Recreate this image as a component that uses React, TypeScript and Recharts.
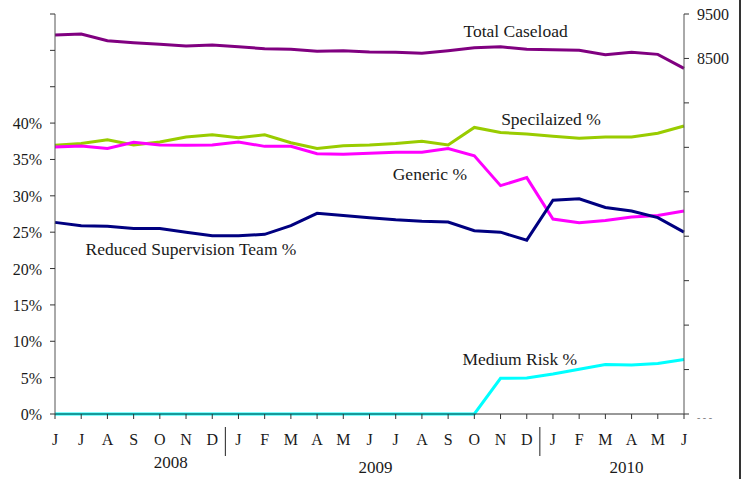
import React from 'react';
import { LineChart, Line, XAxis, YAxis, ReferenceDot } from 'recharts';

const periods = [
  '2008-06', '2008-07', '2008-08', '2008-09', '2008-10', '2008-11', '2008-12',
  '2009-01', '2009-02', '2009-03', '2009-04', '2009-05', '2009-06', '2009-07', '2009-08', '2009-09', '2009-10', '2009-11', '2009-12',
  '2010-01', '2010-02', '2010-03', '2010-04', '2010-05', '2010-06',
];
const monthLetters = ['J', 'J', 'A', 'S', 'O', 'N', 'D', 'J', 'F', 'M', 'A', 'M', 'J', 'J', 'A', 'S', 'O', 'N', 'D', 'J', 'F', 'M', 'A', 'M', 'J'];

const totalCaseload = [9027, 9050, 8899, 8854, 8818, 8779, 8802, 8764, 8719, 8705, 8660, 8673, 8644, 8637, 8615, 8673, 8741, 8764, 8705, 8696, 8682, 8583, 8637, 8592, 8277];
const specializedPct = [36.95, 37.2, 37.7, 37.0, 37.4, 38.1, 38.4, 38.0, 38.4, 37.3, 36.5, 36.9, 37.0, 37.2, 37.5, 37.0, 39.4, 38.7, 38.5, 38.2, 37.9, 38.1, 38.1, 38.6, 39.6];
const genericPct = [36.7, 36.85, 36.5, 37.35, 37.0, 36.95, 37.0, 37.4, 36.8, 36.8, 35.8, 35.7, 35.85, 36.0, 36.0, 36.5, 35.5, 31.4, 32.5, 26.8, 26.3, 26.6, 27.1, 27.3, 27.9];
const reducedPct = [26.35, 25.9, 25.8, 25.5, 25.5, 25.0, 24.5, 24.5, 24.7, 25.9, 27.6, 27.3, 27.0, 26.7, 26.5, 26.4, 25.2, 25.0, 23.9, 29.4, 29.6, 28.4, 27.9, 27.0, 25.0];
const mediumRiskPct = [0, 0, 0, 0, 0, 0, 0, 0, 0, 0, 0, 0, 0, 0, 0, 0, 0, 4.9, 4.95, 5.5, 6.15, 6.8, 6.75, 6.95, 7.5];

const leftTicks = [0, 5, 10, 15, 20, 25, 30, 35, 40, 45, 50, 55];
const leftLabelMax = 40;
const rightTicks = [500, 1500, 2500, 3500, 4500, 5500, 6500, 7500, 8500, 9500];
const rightLabels = [8500, 9500];

const yearLabels = [
  { label: '2008', at: '2008-10', dx: 11, dy: 49 },
  { label: '2009', at: '2009-06', dx: 6, dy: 54 },
  { label: '2010', at: '2010-03', dx: 21, dy: 54 },
];
const yearStarts = ['2009-01', '2010-01'];

const annotations = [
  { text: 'Total Caseload', at: '2009-11', value: 52.6, dx: 15 },
  { text: 'Specilaized %', at: '2010-01', value: 40.56, dx: -2 },
  { text: 'Generic %', at: '2009-08', value: 33.0, dx: 8 },
  { text: 'Reduced Supervision Team %', at: '2008-11', value: 22.73, dx: 5 },
  { text: 'Medium Risk %', at: '2009-12', value: 7.56, dx: -7 },
];

const data = periods.map((p, i) => ({
  period: p,
  month: monthLetters[i],
  total: totalCaseload[i],
  specialized: specializedPct[i],
  generic: genericPct[i],
  reduced: reducedPct[i],
  medium: mediumRiskPct[i],
}));

const FONT = '"Liberation Serif", "Times New Roman", serif';
const TEXT = '#1a1a1a';
const AXIS = '#555';

const XTick = (props: any) => {
  const { x, y, payload } = props;
  const idx = periods.indexOf(payload.value);
  const step = 26.2;
  const yl = yearLabels.find((d) => d.at === payload.value);
  const isStart = yearStarts.includes(payload.value);
  return (
    <g>
      <text x={x} y={y + 26} textAnchor="middle" fontFamily={FONT} fontSize={16} fill={TEXT}>
        {monthLetters[idx]}
      </text>
      {yl && (
        <text x={x + yl.dx} y={y + yl.dy} textAnchor="middle" fontFamily={FONT} fontSize={17} fill={TEXT}>
          {yl.label}
        </text>
      )}
      {isStart && <line x1={x - step / 2} x2={x - step / 2} y1={y + 8} y2={y + 37} stroke="#222" strokeWidth={1} />}
    </g>
  );
};

const LeftTick = (props: any) => {
  const { x, y, payload } = props;
  if (payload.value > leftLabelMax) return <g />;
  return (
    <text x={x} y={y + 6} textAnchor="end" fontFamily={FONT} fontSize={16} fill={TEXT}>
      {payload.value + '%'}
    </text>
  );
};

const RightTick = (props: any) => {
  const { x, y, payload } = props;
  if (rightLabels.includes(payload.value)) {
    return (
      <text x={x} y={y + 6} textAnchor="start" fontFamily={FONT} fontSize={16} fill={TEXT}>
        {payload.value}
      </text>
    );
  }
  if (payload.value === rightTicks[0]) {
    return (
      <text x={x} y={y + 7} textAnchor="start" fontFamily={FONT} fontSize={10} fill="#777">
        - - -
      </text>
    );
  }
  return <g />;
};

export default function App() {
  return (
    <div style={{ position: 'absolute', left: 0, top: 0, width: 743, height: 479, background: '#fff' }}>
      <LineChart width={743} height={479} data={data} margin={{ top: 14, right: 9, left: 10, bottom: 35 }}>
        <XAxis
          dataKey="period"
          height={30}
          padding={{ left: 0, right: 0 }}
          interval={0}
          tickSize={5}
          tickMargin={0}
          axisLine={{ stroke: '#333' }}
          tickLine={{ stroke: '#333' }}
          tick={<XTick />}
        />
        <YAxis
          yAxisId="left"
          orientation="left"
          width={45}
          domain={[0, 55]}
          ticks={leftTicks}
          interval={0}
          tickSize={5}
          tickMargin={8}
          axisLine={{ stroke: AXIS }}
          tickLine={{ stroke: '#333' }}
          tick={<LeftTick />}
        />
        <YAxis
          yAxisId="right"
          orientation="right"
          width={50}
          domain={[500, 9500]}
          ticks={rightTicks}
          interval={0}
          tickSize={5}
          tickMargin={8}
          axisLine={{ stroke: AXIS }}
          tickLine={{ stroke: '#333' }}
          tick={<RightTick />}
        />
        <Line yAxisId="right" dataKey="total" stroke="#800080" strokeWidth={3} dot={false} isAnimationActive={false} />
        <Line yAxisId="left" dataKey="specialized" stroke="#99CC00" strokeWidth={3} dot={false} isAnimationActive={false} />
        <Line yAxisId="left" dataKey="generic" stroke="#FF00FF" strokeWidth={3} dot={false} isAnimationActive={false} />
        <Line yAxisId="left" dataKey="reduced" stroke="#000080" strokeWidth={3} dot={false} isAnimationActive={false} />
        <Line yAxisId="left" dataKey="medium" stroke="#00FFFF" strokeWidth={3} dot={false} isAnimationActive={false} />
        {annotations.map((a) => (
          <ReferenceDot
            key={a.text}
            yAxisId="left"
            x={a.at}
            y={a.value}
            r={0}
            ifOverflow="visible"
            shape={(p: any) => (
              <text
                x={p.cx + a.dx}
                y={p.cy + 6}
                textAnchor="middle"
                fontFamily={FONT}
                fontSize={17.5}
                fill={TEXT}
              >
                {a.text}
              </text>
            )}
          />
        ))}
      </LineChart>
      <div style={{ position: 'absolute', left: 739, top: 0, width: 2, height: 479, background: '#333' }} />
    </div>
  );
}
